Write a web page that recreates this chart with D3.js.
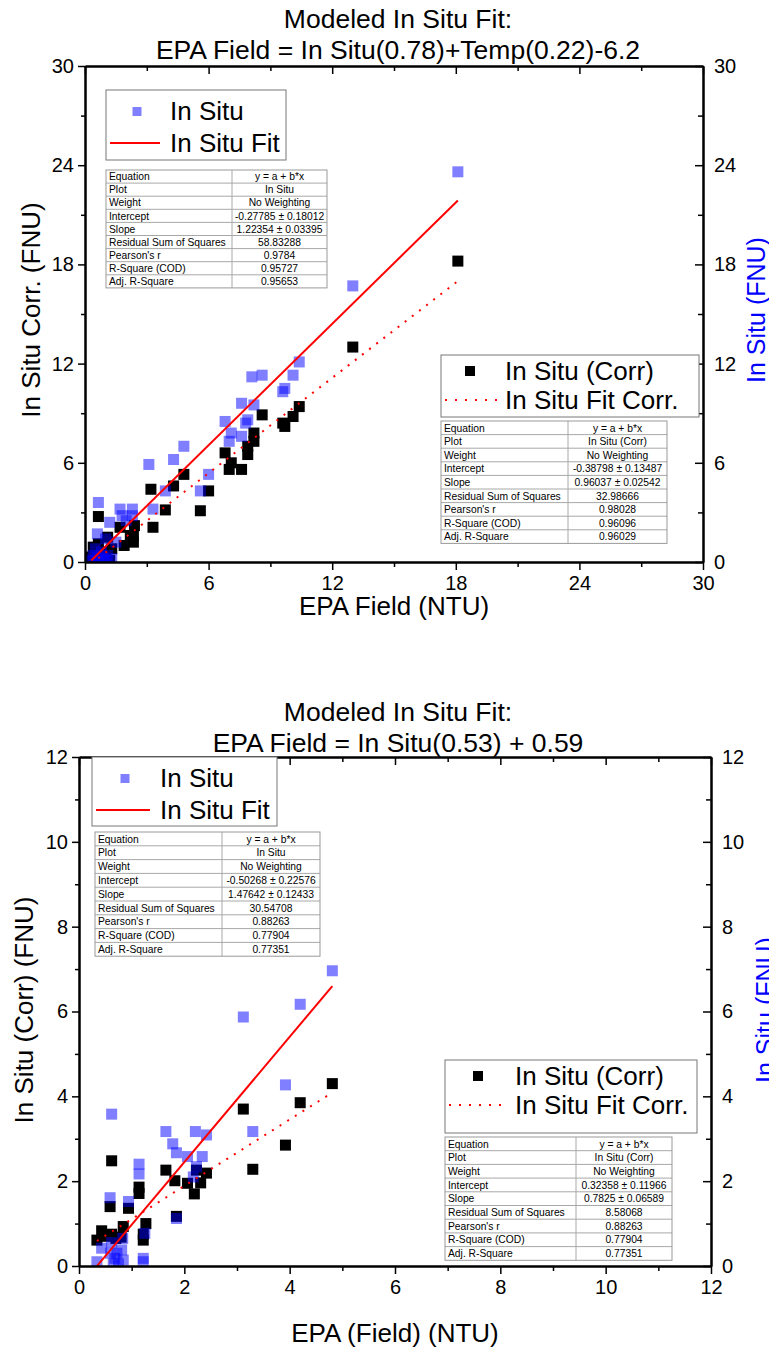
<!DOCTYPE html>
<html>
<head>
<meta charset="utf-8">
<script src="https://d3js.org/d3.v7.min.js"></script>
<style>
  body { margin: 0; background: #fff; }
  text { font-family: "Liberation Sans", Arial, sans-serif; fill: #000; }
  .axis path, .axis line { stroke: #000; }
  .axis path { stroke-width: 2; }
  .axis line { stroke-width: 1.5; }
</style>
</head>
<body>
<div id="chart"></div>
<script>
// ---- top panel data ----
var topTitle = ["Modeled In Situ Fit:", "EPA Field = In Situ(0.78)+Temp(0.22)-6.2"];
var topTicks = [0, 6, 12, 18, 24, 30];
var topInSitu = [[18.1,23.6],[13.0,16.7],[10.4,12.1],[10.1,11.3],[8.6,11.3],[8.1,11.2],[9.7,10.5],[9.6,10.3],
  [8.2,9.5],[7.6,9.6],[6.8,8.5],[7.9,8.6],[7.8,8.4],[7.1,7.8],[7.0,7.3],[7.6,7.6],[4.8,7.0],[4.3,6.2],[3.1,5.9],
  [6.0,5.3],[5.6,4.3],[3.9,4.3],[0.65,3.6],[1.7,3.2],[2.3,3.2],[3.3,3.2],[1.8,2.8],[2.3,2.8],[2.0,2.5],[1.2,2.4],
  [0.6,1.7],[1.0,1.4],[1.5,1.2],[0.5,0.8],[0.8,0.6],[0.4,0.4],[0.6,0.3],[0.9,0.2],[1.1,0.4],[0.3,0.1],[0.5,0.1],
  [0.7,0.15],[1.0,0.1],[1.3,0.2]];
var topCorr = [[18.1,18.2],[13.0,13.0],[10.4,9.4],[10.1,8.8],[9.7,8.2],[9.6,8.4],[8.6,8.9],[8.2,7.8],[8.2,7.3],
  [7.9,7.0],[7.9,6.5],[6.8,6.6],[7.1,6.0],[7.0,5.6],[7.6,5.6],[6.0,4.3],[4.8,5.3],[4.3,4.6],[3.2,4.4],[3.9,3.15],
  [5.6,3.1],[0.65,2.75],[3.3,2.1],[1.7,2.1],[2.4,2.2],[2.2,1.6],[2.35,1.6],[1.9,1.0],[1.1,1.5],[0.65,1.1],
  [2.35,1.2],[0.4,0.9],[0.9,0.6],[1.3,0.8],[0.3,0.3],[0.6,0.2],[1.0,0.4],[1.2,0.1],[0.5,0.6]];
var topFitInSitu = [-0.27785, 1.22354];   // intercept, slope
var topFitCorr = [-0.38798, 0.96037];
var topTableInSitu = [["Equation","y = a + b*x"],["Plot","In Situ"],["Weight","No Weighting"],
  ["Intercept","-0.27785 \u00b1 0.18012"],["Slope","1.22354 \u00b1 0.03395"],["Residual Sum of Squares","58.83288"],
  ["Pearson's r","0.9784"],["R-Square (COD)","0.95727"],["Adj. R-Square","0.95653"]];
var topTableCorr = [["Equation","y = a + b*x"],["Plot","In Situ (Corr)"],["Weight","No Weighting"],
  ["Intercept","-0.38798 \u00b1 0.13487"],["Slope","0.96037 \u00b1 0.02542"],["Residual Sum of Squares","32.98666"],
  ["Pearson's r","0.98028"],["R-Square (COD)","0.96096"],["Adj. R-Square","0.96029"]];

// ---- bottom panel data ----
var botTitle = ["Modeled In Situ Fit:", "EPA Field = In Situ(0.53) + 0.59"];
var botTicks = [0, 2, 4, 6, 8, 10, 12];
var botInSitu = [[4.81,6.96],[4.2,6.17],[3.12,5.87],[3.92,4.27],[3.3,3.17],[0.62,3.58],[1.65,3.17],[2.21,3.17],
  [2.42,3.09],[1.78,2.88],[1.85,2.67],[2.06,2.58],[2.34,2.58],[1.14,2.4],[1.14,2.17],[2.23,2.34],[2.17,2.1],
  [0.59,1.61],[0.94,1.52],[1.85,1.12],[1.25,0.77],[0.83,0.65],[0.43,0.42],[0.81,0.38],[0.68,0.18],[0.84,0.14],
  [0.34,0.1],[1.22,0.18],[0.65,0.05],[0.75,0.05],[1.22,0.1],[0.6,0.3],[0.72,0.3],[0.62,0.55]];
var botCorr = [[4.81,4.3],[4.2,3.85],[3.92,2.85],[3.12,3.7],[3.3,2.28],[0.62,2.48],[1.65,2.26],[2.23,2.26],
  [2.42,2.19],[1.82,2.01],[2.06,1.95],[2.31,1.96],[2.19,1.7],[1.14,1.86],[1.14,1.71],[0.59,1.4],[0.94,1.36],
  [1.85,1.17],[1.27,1.0],[0.43,0.83],[0.62,0.75],[0.84,0.93],[0.34,0.61],[1.22,0.61],[0.7,0.65],[0.8,0.68],
  [1.22,0.75],[0.5,0.7]];
var botFitInSitu = [-0.50268, 1.47642];
var botFitCorr = [0.32358, 0.7825];
var botTableInSitu = [["Equation","y = a + b*x"],["Plot","In Situ"],["Weight","No Weighting"],
  ["Intercept","-0.50268 \u00b1 0.22576"],["Slope","1.47642 \u00b1 0.12433"],["Residual Sum of Squares","30.54708"],
  ["Pearson's r","0.88263"],["R-Square (COD)","0.77904"],["Adj. R-Square","0.77351"]];
var botTableCorr = [["Equation","y = a + b*x"],["Plot","In Situ (Corr)"],["Weight","No Weighting"],
  ["Intercept","0.32358 \u00b1 0.11966"],["Slope","0.7825 \u00b1 0.06589"],["Residual Sum of Squares","8.58068"],
  ["Pearson's r","0.88263"],["R-Square (COD)","0.77904"],["Adj. R-Square","0.77351"]];

var blue = "#0000ff", red = "#ff0000";

var svg = d3.select("#chart").append("svg")
    .attr("width", 769)
    .attr("height", 1349);

function drawTable(g, rows, box) {
  var t = g.append("g").attr("transform", "translate(" + box.x + "," + box.y + ")");
  var h = box.h;
  rows.forEach(function(r, i) {
    t.append("text").attr("x", 3).attr("y", i * h + h / 2 + 3.7)
      .style("font-size", "10.3px").text(r[0]);
    t.append("text").attr("x", box.split + (box.w - box.split) / 2).attr("y", i * h + h / 2 + 3.7)
      .attr("text-anchor", "middle").style("font-size", "10.3px").text(r[1]);
    if (i > 0) t.append("line").attr("x1", 0).attr("x2", box.w).attr("y1", i * h).attr("y2", i * h)
      .attr("stroke", "#a8a8a8");
  });
  t.append("line").attr("x1", box.split).attr("x2", box.split).attr("y1", 0).attr("y2", h * rows.length)
    .attr("stroke", "#a8a8a8");
  t.append("rect").attr("width", box.w).attr("height", h * rows.length)
    .attr("fill", "none").attr("stroke", "#999");
}

function panel(o) {
  var x = d3.scaleLinear().domain([0, o.max]).range([o.l, o.r]);
  var y = d3.scaleLinear().domain([0, o.max]).range([o.b, o.t]);
  var g = svg.append("g");
  var minor = o.ticks.slice(1).map(function(v, i) { return (v + o.ticks[i]) / 2; });

  // title
  g.selectAll(".title").data(o.title).enter().append("text")
    .attr("x", 398).attr("y", function(d, i) { return o.titleY + i * 31; })
    .attr("text-anchor", "middle").style("font-size", "26.5px").text(function(d) { return d; });

  // clip
  g.append("clipPath").attr("id", o.id).append("rect")
    .attr("x", o.l).attr("y", o.t).attr("width", o.r - o.l).attr("height", o.b - o.t);
  var plot = g.append("g").attr("clip-path", "url(#" + o.id + ")");

  var sq = 11;
  plot.selectAll(".corr").data(o.corr).enter().append("rect")
    .attr("x", function(d) { return x(d[0]) - sq / 2; })
    .attr("y", function(d) { return y(d[1]) - sq / 2; })
    .attr("width", sq).attr("height", sq).attr("fill", "#000");
  plot.selectAll(".insitu").data(o.inSitu).enter().append("rect")
    .attr("x", function(d) { return x(d[0]) - sq / 2; })
    .attr("y", function(d) { return y(d[1]) - sq / 2; })
    .attr("width", sq).attr("height", sq).attr("fill", blue).attr("fill-opacity", 0.5);

  var ext = d3.extent(o.inSitu, function(d) { return d[0]; });
  var line = d3.line().x(function(d) { return x(d); });
  plot.append("path").datum(ext)
    .attr("d", line.y(function(d) { return y(o.fitInSitu[0] + o.fitInSitu[1] * d); }))
    .attr("stroke", red).attr("stroke-width", 2).attr("fill", "none");
  plot.append("path").datum(ext)
    .attr("d", line.y(function(d) { return y(o.fitCorr[0] + o.fitCorr[1] * d); }))
    .attr("stroke", red).attr("stroke-width", 2).attr("fill", "none")
    .attr("stroke-dasharray", "2,7");

  // axes: bottom/left ticks out, top/right ticks in
  function axis(gen, tr, vals, size, pad, labels) {
    var a = g.append("g").attr("class", "axis").attr("transform", tr)
      .call(gen.tickValues(vals).tickSizeInner(size).tickSizeOuter(0).tickPadding(pad)
        .tickFormat(labels ? d3.format("d") : ""));
    a.selectAll("text").style("font-size", "20px");
    return a;
  }
  axis(d3.axisBottom(x), "translate(0," + o.b + ")", o.ticks, 8, 6, true);
  axis(d3.axisBottom(x), "translate(0," + o.b + ")", minor, 5, 0, false);
  axis(d3.axisTop(x), "translate(0," + o.t + ")", o.ticks, -8, 0, false);
  axis(d3.axisTop(x), "translate(0," + o.t + ")", minor, -5, 0, false);
  axis(d3.axisLeft(y), "translate(" + o.l + ",0)", o.ticks, 7, 4, true);
  axis(d3.axisLeft(y), "translate(" + o.l + ",0)", minor, 4, 0, false);
  axis(d3.axisRight(y), "translate(" + o.r + ",0)", o.ticks, -8, 11, true);
  axis(d3.axisRight(y), "translate(" + o.r + ",0)", minor, -5, 0, false);

  // axis titles
  g.append("text").attr("x", (o.l + o.r) / 2).attr("y", o.xLabelY).attr("text-anchor", "middle")
    .style("font-size", "26px").text(o.xLabel);
  g.append("text").attr("transform", "translate(" + o.yLabelX + "," + o.labelMid + ") rotate(-90)")
    .attr("text-anchor", "middle").style("font-size", "26px").text(o.yLabel);
  g.append("text").attr("transform", "translate(" + o.y2LabelX + "," + o.labelMid + ") rotate(-90)")
    .attr("text-anchor", "middle").style("font-size", "25px").style("fill", blue).text("In Situ (FNU)");

  // legend 1
  var L1 = o.leg1;
  g.append("rect").attr("x", L1.x).attr("y", L1.y).attr("width", L1.w).attr("height", L1.h)
    .attr("fill", "#fff").attr("stroke", "#777");
  g.append("rect").attr("x", L1.mx - 4.5).attr("y", L1.y + 17).attr("width", 9).attr("height", 9)
    .attr("fill", blue).attr("fill-opacity", 0.5);
  g.append("line").attr("x1", L1.x + 4).attr("x2", L1.tx - 10).attr("y1", L1.y + 53).attr("y2", L1.y + 53)
    .attr("stroke", red).attr("stroke-width", 2);
  g.append("text").attr("x", L1.tx).attr("y", L1.y + 30).style("font-size", "26px").text("In Situ");
  g.append("text").attr("x", L1.tx).attr("y", L1.y + 62).style("font-size", "26px").text("In Situ Fit");

  // legend 2
  var L2 = o.leg2;
  g.append("rect").attr("x", L2.x).attr("y", L2.y).attr("width", L2.w).attr("height", L2.h)
    .attr("fill", "#fff").attr("stroke", "#777");
  g.append("rect").attr("x", L2.mx - 5).attr("y", L2.y + 11).attr("width", 10).attr("height", 10)
    .attr("fill", "#000");
  g.append("line").attr("x1", L2.x + 4).attr("x2", L2.tx - 8).attr("y1", L2.y + 45).attr("y2", L2.y + 45)
    .attr("stroke", red).attr("stroke-width", 2).attr("stroke-dasharray", "2,8");
  g.append("text").attr("x", L2.tx).attr("y", L2.y + 25).style("font-size", "26px").text("In Situ (Corr)");
  g.append("text").attr("x", L2.tx).attr("y", L2.y + 54).style("font-size", "26px").text("In Situ Fit Corr.");

  drawTable(g, o.table1, o.tab1);
  drawTable(g, o.table2, o.tab2);
}

panel({
  id: "clipTop", max: 30, ticks: topTicks, l: 85, r: 703, t: 66, b: 562,
  title: topTitle, titleY: 28,
  inSitu: topInSitu, corr: topCorr, fitInSitu: topFitInSitu, fitCorr: topFitCorr,
  xLabel: "EPA Field (NTU)", xLabelY: 615, yLabel: "In Situ Corr. (FNU)", yLabelX: 40, y2LabelX: 765, labelMid: 310,
  leg1: {x: 106, y: 90, w: 180, h: 70, mx: 137, tx: 170},
  leg2: {x: 441, y: 355, w: 258, h: 62, mx: 470, tx: 505},
  table1: topTableInSitu, tab1: {x: 106, y: 170, w: 221, split: 126, h: 13.1},
  table2: topTableCorr, tab2: {x: 441, y: 421, w: 226, split: 127, h: 13.6}
});

panel({
  id: "clipBot", max: 12, ticks: botTicks, l: 79, r: 711, t: 757, b: 1266,
  title: botTitle, titleY: 721,
  inSitu: botInSitu, corr: botCorr, fitInSitu: botFitInSitu, fitCorr: botFitCorr,
  xLabel: "EPA (Field) (NTU)", xLabelY: 1342, yLabel: "In Situ (Corr) (FNU)", yLabelX: 33, y2LabelX: 774, labelMid: 1010,
  leg1: {x: 92, y: 757, w: 185, h: 69, mx: 125, tx: 160},
  leg2: {x: 445, y: 1060, w: 252, h: 73, mx: 478, tx: 515},
  table1: botTableInSitu, tab1: {x: 95, y: 832, w: 225, split: 127, h: 13.8},
  table2: botTableCorr, tab2: {x: 445, y: 1137, w: 227, split: 131, h: 13.7}
});
</script>
</body>
</html>
